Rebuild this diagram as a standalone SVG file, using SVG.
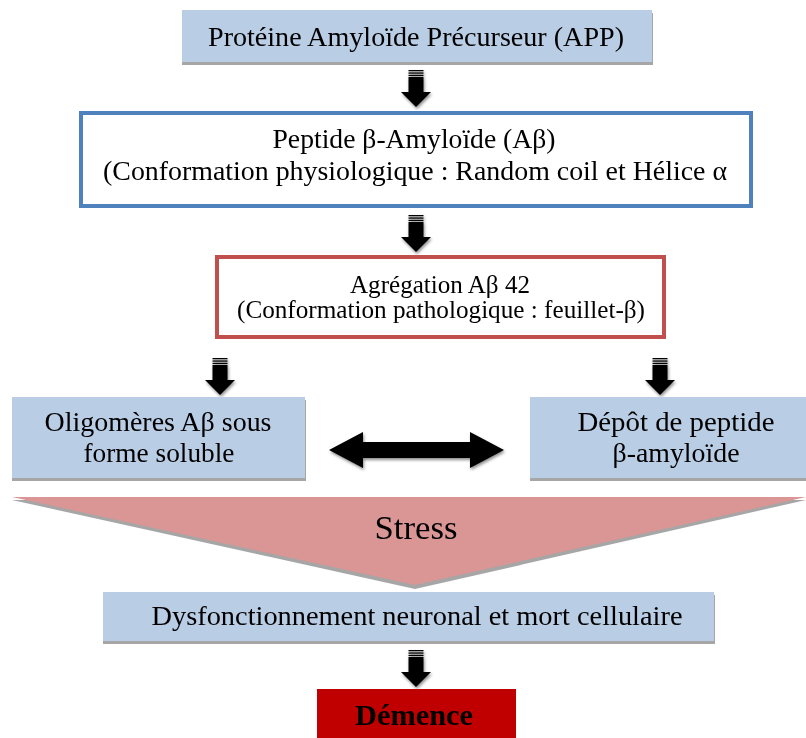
<svg xmlns="http://www.w3.org/2000/svg" xmlns:xlink="http://www.w3.org/1999/xlink" width="806" height="738" viewBox="0 0 806 738">
<style>
.t{font-family:"Liberation Serif","Times New Roman",serif;fill:#000;text-anchor:middle}
.blue{fill:#B9CDE5}
.shadow{fill:#A6A6A6}
</style>
<defs>
<filter id="ds" x="-50%" y="-50%" width="200%" height="200%">
<feDropShadow dx="1" dy="2" stdDeviation="1.5" flood-color="#000" flood-opacity="0.45"/>
</filter>
<g id="dn">
<rect x="-7.5" y="0" width="15" height="1.3"/>
<rect x="-7.5" y="2.4" width="15" height="1.3"/>
<rect x="-7.5" y="4.8" width="15" height="1.3"/>
<rect x="-7.5" y="7" width="15" height="15"/>
<polygon points="-15,22 15,22 0,37"/>
</g>
</defs>
<rect width="806" height="738" fill="#fff"/>

<g id="connectors" fill="#000" filter="url(#ds)">
<use xlink:href="#dn" x="416" y="70"/>
<use xlink:href="#dn" x="416" y="215"/>
<use xlink:href="#dn" x="220" y="358"/>
<use xlink:href="#dn" x="660" y="358"/>
<use xlink:href="#dn" x="416" y="650"/>
<polygon id="dbl" points="329,450 363,432 363,442 470,442 470,432 504,450 470,468 470,458 363,458 363,468"/>
</g>

<g id="app">
<rect class="shadow" x="182" y="13" width="471" height="52"/>
<rect class="blue" x="182" y="10" width="470" height="52"/>
<text class="t" x="416" y="46" font-size="28" textLength="416" lengthAdjust="spacingAndGlyphs">Protéine Amyloïde Précurseur (APP)</text>
</g>

<g id="abeta">
<rect x="81" y="113" width="670" height="93" fill="#fff" stroke="#4F81BD" stroke-width="4"/>
<text class="t" x="414" y="148" font-size="27" textLength="283" lengthAdjust="spacingAndGlyphs">Peptide β-Amyloïde (Aβ)</text>
<text class="t" x="415" y="180" font-size="27" textLength="624" lengthAdjust="spacingAndGlyphs">(Conformation physiologique : Random coil et Hélice α</text>
</g>

<g id="agreg">
<rect x="217" y="257" width="447" height="80" fill="#fff" stroke="#C0504D" stroke-width="4"/>
<text class="t" x="440" y="293" font-size="25" textLength="180" lengthAdjust="spacingAndGlyphs">Agrégation Aβ 42</text>
<text class="t" x="441" y="318" font-size="25" textLength="408" lengthAdjust="spacingAndGlyphs">(Conformation pathologique : feuillet-β)</text>
</g>

<g id="oligo">
<rect class="shadow" x="12" y="400" width="294" height="81"/>
<rect class="blue" x="12" y="397" width="293" height="81"/>
<text class="t" x="158" y="431" font-size="28" textLength="227" lengthAdjust="spacingAndGlyphs">Oligomères Aβ sous</text>
<text class="t" x="159" y="462" font-size="28" textLength="151" lengthAdjust="spacingAndGlyphs">forme soluble</text>
</g>

<g id="depot">
<rect class="shadow" x="530" y="400" width="276" height="81"/>
<rect class="blue" x="530" y="397" width="276" height="81"/>
<text class="t" x="676" y="431" font-size="28" textLength="197" lengthAdjust="spacingAndGlyphs">Dépôt de peptide</text>
<text class="t" x="676" y="462" font-size="28" textLength="127" lengthAdjust="spacingAndGlyphs">β-amyloïde</text>
</g>

<g id="stress">
<polygon points="12,500 806,500 415,589" fill="#A6A6A6"/>
<polygon points="12,497 806,497 415,585" fill="#D99694"/>
<text class="t" x="416" y="539" font-size="34" textLength="83" lengthAdjust="spacingAndGlyphs">Stress</text>
</g>

<g id="dysf">
<rect class="shadow" x="103" y="595" width="612" height="49"/>
<rect class="blue" x="103" y="592" width="611" height="49"/>
<text class="t" x="417" y="625" font-size="28" textLength="531" lengthAdjust="spacingAndGlyphs">Dysfonctionnement neuronal et mort cellulaire</text>
</g>

<g id="demence">
<rect x="317" y="689" width="199" height="49" fill="#C00000"/>
<text class="t" x="414" y="725" font-size="30" font-weight="bold" textLength="118" lengthAdjust="spacingAndGlyphs">Démence</text>
</g>
</svg>
